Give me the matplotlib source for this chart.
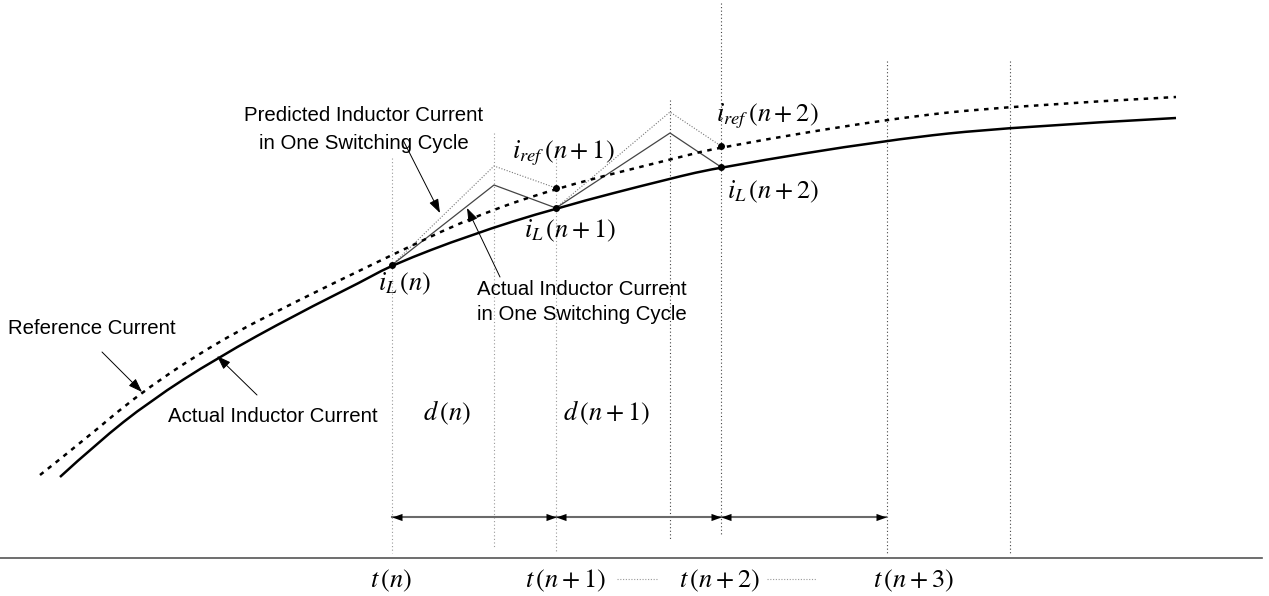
import matplotlib
matplotlib.use("Agg")
import matplotlib.pyplot as plt
from matplotlib.path import Path
from matplotlib.patches import PathPatch

plt.rcParams['mathtext.fontset'] = 'stix'
plt.rcParams['font.family'] = ['Liberation Sans', 'DejaVu Sans']

# ---- data (pixel units of a 1269x596 canvas) ----
actual_x = [60, 97, 150, 217, 297, 363, 392, 470, 556, 670, 721, 887, 1010, 1176]
actual_y = [477, 443, 401, 358, 314, 281, 265, 235, 208, 178.5, 167, 140, 127, 118]

ref_x = [40, 83, 140, 217, 297, 363, 392, 470, 556, 680, 721, 887, 1010, 1176]
ref_y = [475, 441, 393, 342, 301, 269, 255, 218, 188, 157, 147, 119, 106, 97]

pred_x = [[392, 494, 556], [556, 670, 721]]
pred_y = [[265, 166, 188], [208, 112, 146]]
act_tri_x = [[392, 494, 556], [556, 670, 721]]
act_tri_y = [[265, 185, 208], [208, 133, 167]]

dots_x = [392, 556, 556, 721, 721]
dots_y = [265, 208, 188, 167, 146]

vline_x = [392, 494, 556, 670, 721, 887, 1010]
vline_top = [158, 133, 148, 100, 3, 61, 61]
vline_bot = [553, 548, 553, 540, 535, 555, 555]
vline_dark = [False, False, False, True, True, True, True]

period_x = [392, 556, 721, 886]
period_y = 517

t_labels = [r'$t\,(n)$', r'$t\,(n+1)$', r'$t\,(n+2)$', r'$t\,(n+3)$']
t_label_x = [391, 565, 719, 913]

fig = plt.figure(figsize=(12.69, 5.96), dpi=100)
ax = fig.add_axes([0, 0, 1, 1])
ax.set_xlim(0, 1269)
ax.set_ylim(596, 0)
ax.axis('off')


def smooth_path(xs, ys):
    """Quadratic B-spline path using the read points as control points."""
    pts = list(zip(xs, ys))
    verts = [pts[0]]
    codes = [Path.MOVETO]
    n = len(pts)
    for i in range(1, n - 1):
        if i < n - 2:
            end = ((pts[i][0] + pts[i + 1][0]) / 2, (pts[i][1] + pts[i + 1][1]) / 2)
        else:
            end = pts[-1]
        verts += [pts[i], end]
        codes += [Path.CURVE3, Path.CURVE3]
    return Path(verts, codes)


# vertical dotted lines
for x, t, b, dk in zip(vline_x, vline_top, vline_bot, vline_dark):
    ax.plot([x, x], [t, b], color='#444444' if dk else '#9a9a9a', lw=0.8,
            linestyle=(0, (1, 2.2)), zorder=1)

# time axis
ax.plot([0, 1262], [558, 558], color='#555555', lw=1.2, zorder=2)

# main curves
ax.add_patch(PathPatch(smooth_path(actual_x, actual_y), fill=False, ec='black',
                       lw=1.8, capstyle='butt', zorder=3))
ax.add_patch(PathPatch(smooth_path(ref_x, ref_y), fill=False, ec='black',
                       lw=1.8, linestyle=(0, (1.8, 2.2)), zorder=3))

# switching cycle triangles
for xs, ys in zip(pred_x, pred_y):
    ax.plot(xs, ys, color='#777777', lw=0.8, linestyle=(0, (1, 1.5)), zorder=2)
for xs, ys in zip(act_tri_x, act_tri_y):
    ax.plot(xs, ys, color='#444444', lw=0.9, zorder=2)

ax.plot(dots_x, dots_y, 'o', color='black', ms=4, zorder=4)

# period arrows: gray shafts, black heads
head_r = [(0, 0), (-1, 0.36), (-1, -0.36)]
head_l = [(0, 0), (1, 0.36), (1, -0.36)]
for a, b in zip(period_x[:-1], period_x[1:]):
    ax.plot([a, b], [period_y, period_y], color='#6a6a6a', lw=1.5, zorder=3)
    ax.plot([b], [period_y], marker=head_r, ms=14.4, color='black', mew=0, zorder=4)
    ax.plot([a], [period_y], marker=head_l, ms=14.4, color='black', mew=0, zorder=4)


# pointer arrows
def pointer(tail, head):
    ax.annotate('', xy=head, xytext=tail,
                arrowprops=dict(arrowstyle='-|>,head_length=0.85,head_width=0.3',
                                mutation_scale=10, color='black', lw=0.7,
                                shrinkA=0, shrinkB=0), zorder=4)


pointer((403, 140), (440, 213))
pointer((500, 277), (467, 208))
pointer((102, 352), (142, 392))
pointer((257, 395), (217, 356))

tfs = 14.7
ax.text(364, 121, 'Predicted Inductor Current', fontsize=tfs, ha='center', va='baseline')
ax.text(364, 149, 'in One Switching Cycle', fontsize=tfs, ha='center', va='baseline')
ax.text(582, 295, 'Actual Inductor Current', fontsize=tfs, ha='center', va='baseline')
ax.text(582, 320, 'in One Switching Cycle', fontsize=tfs, ha='center', va='baseline')
ax.text(8, 334, 'Reference Current', fontsize=tfs, ha='left', va='baseline')
ax.text(168, 422, 'Actual Inductor Current', fontsize=tfs, ha='left', va='baseline')

mfs = 19
ax.text(405, 284, r'$i_L\,(n)$', fontsize=mfs, ha='center', va='center')
ax.text(570, 231, r'$i_L\,(n+1)$', fontsize=mfs, ha='center', va='center')
ax.text(773, 192, r'$i_L\,(n+2)$', fontsize=mfs, ha='center', va='center')
ax.text(563, 153, r'$i_{ref}\,(n+1)$', fontsize=mfs, ha='center', va='center')
ax.text(767, 116, r'$i_{ref}\,(n+2)$', fontsize=mfs, ha='center', va='center')
ax.text(447, 413, r'$d\,(n)$', fontsize=mfs, ha='center', va='center')
ax.text(606, 413, r'$d\,(n+1)$', fontsize=mfs, ha='center', va='center')
for lab, x in zip(t_labels, t_label_x):
    ax.text(x, 581, lab, fontsize=mfs, ha='center', va='center')

# dotted separators between time labels
for x0, x1 in [(617, 658), (767, 817)]:
    ax.plot([x0, x1], [579, 579], color='#999999', lw=0.8, linestyle=(0, (1, 1.5)))

fig.savefig('out.png', dpi=100)
